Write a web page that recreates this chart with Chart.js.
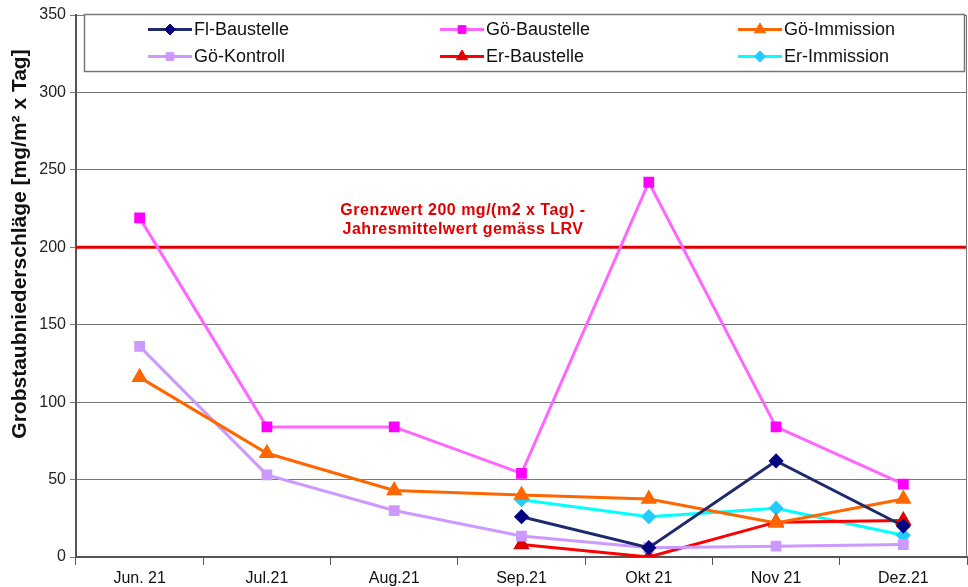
<!DOCTYPE html>
<html>
<head>
<meta charset="utf-8">
<script src="https://cdn.jsdelivr.net/npm/chart.js@4.4.1/dist/chart.umd.min.js"></script>
<style>
  html, body { margin: 0; padding: 0; background: #fff; }
  #wrap { width: 968px; height: 587px; }
</style>
</head>
<body>
<div id="wrap"><canvas id="c" width="968" height="587"></canvas></div>
<script>
// Monthly coarse dust deposition per station, mg/(m² x day)
const months = ['Jun. 21', 'Jul.21', 'Aug.21', 'Sep.21', 'Okt 21', 'Nov 21', 'Dez.21'];
const flBaustelle = [null, null, null, 26, 6, 62, 20];
const goeBaustelle = [219, 84, 84, 54, 242, 84, 47];
const goeImmission = [116, 67, 43, 40, 37.5, 22, 37.5];
const goeKontroll = [136, 53, 30, 13.5, 6, 7, 8];
const erBaustelle = [null, null, null, 8, 0, 22.5, 23.5];
const erImmission = [null, null, null, 37, 26, 31.5, 14];
const yTicks = [0, 50, 100, 150, 200, 250, 300, 350];
const limitValue = 200;
const limitText = ['Grenzwert 200 mg/(m2 x Tag) -', 'Jahresmittelwert gemäss LRV'];
const yTitle = 'Grobstaubniederschläge [mg/m² x Tag]';

const FONT = "'Liberation Sans', Arial, sans-serif";

function series(label, data, line, marker, style, radius) {
  return {
    label, data,
    borderColor: line, backgroundColor: marker,
    pointBackgroundColor: marker, pointBorderColor: marker,
    pointStyle: style, pointRadius: radius, pointHoverRadius: radius,
    borderWidth: 3, tension: 0, spanGaps: false, fill: false
  };
}

const datasets = [
  series('Fl-Baustelle', flBaustelle, '#1f2a6b', '#000080', 'rectRot', 5.5),
  series('Gö-Baustelle', goeBaustelle, '#ff66ff', '#ff00ff', 'rect', 5.5),
  series('Gö-Immission', goeImmission, '#ff6600', '#ff6600', 'triangle', 6.5),
  series('Gö-Kontroll', goeKontroll, '#cc99ff', '#cc99ff', 'rect', 5.5),
  series('Er-Baustelle', erBaustelle, '#ff0000', '#dd0000', 'triangle', 6.5),
  series('Er-Immission', erImmission, '#00ffff', '#22ccff', 'rectRot', 5.5)
];

// Limit line, its caption, frame, axis title and boxed legend inside the plot
const overlay = {
  id: 'overlay',
  beforeDatasetsDraw(chart) {
    const { ctx, chartArea: a, scales } = chart;
    const y = scales.y.getPixelForValue(limitValue);
    ctx.save();
    ctx.strokeStyle = '#e00000';
    ctx.lineWidth = 3;
    ctx.beginPath(); ctx.moveTo(a.left, y); ctx.lineTo(a.right, y); ctx.stroke();

    ctx.fillStyle = '#e00000';
    ctx.font = 'bold 16px ' + FONT;
    ctx.letterSpacing = '0.5px';
    ctx.textAlign = 'center';
    ctx.textBaseline = 'middle';
    ctx.fillText(limitText[0], 463, y - 37);
    ctx.fillText(limitText[1], 463, y - 18);
    ctx.letterSpacing = '0px';

    // right frame edge
    ctx.strokeStyle = '#777';
    ctx.lineWidth = 1;
    ctx.beginPath(); ctx.moveTo(a.right - 0.5, a.top); ctx.lineTo(a.right - 0.5, a.bottom); ctx.stroke();

    // y axis title
    ctx.save();
    ctx.translate(20, 244);
    ctx.rotate(-Math.PI / 2);
    ctx.fillStyle = '#111';
    ctx.font = 'bold 21px ' + FONT;
    ctx.fillText(yTitle, 0, 0);
    ctx.restore();

    // legend box
    const bx = 84.5, by = a.top - 0.5, bw = 880, bh = 57;
    ctx.fillStyle = '#fff';
    ctx.fillRect(bx, by, bw, bh);
    ctx.strokeStyle = '#777';
    ctx.lineWidth = 1.5;
    ctx.strokeRect(bx, by, bw, bh);

    const cols = [148, 440, 738];
    const rows = [by + 15, by + 42];
    ctx.font = '18px ' + FONT;
    ctx.textAlign = 'left';
    chart.data.datasets.forEach((ds, i) => {
      const x0 = cols[i % 3], yy = rows[Math.floor(i / 3)];
      ctx.strokeStyle = ds.borderColor;
      ctx.lineWidth = 3;
      ctx.beginPath(); ctx.moveTo(x0, yy); ctx.lineTo(x0 + 44, yy); ctx.stroke();
      ctx.fillStyle = ds.pointBackgroundColor;
      ctx.strokeStyle = ds.pointBorderColor;
      ctx.lineWidth = 1;
      Chart.helpers.drawPoint(ctx, {
        pointStyle: ds.pointStyle, radius: ds.pointRadius, rotation: 0, borderWidth: 1
      }, x0 + 22, yy);
      ctx.fillStyle = '#111';
      ctx.fillText(ds.label, x0 + 46, yy + 1);
    });
    ctx.restore();
  }
};

new Chart(document.getElementById('c'), {
  type: 'line',
  data: { labels: months, datasets },
  options: {
    responsive: false,
    animation: false,
    events: [],
    layout: { autoPadding: false, padding: { top: 15, right: 1, left: 0, bottom: 0 } },
    plugins: { legend: { display: false }, tooltip: { enabled: false } },
    scales: {
      x: {
        type: 'category',
        offset: true,
        afterFit(s) { s.height = 30; s.paddingLeft = 0; s.paddingRight = 0; },
        grid: {
          offset: true, drawOnChartArea: false, drawTicks: true,
          tickLength: 8, color: '#555', lineWidth: 1
        },
        border: { display: true, color: '#555', width: 2 },
        ticks: {
          color: '#111', padding: 4, maxRotation: 0, autoSkip: false,
          font: { family: FONT, size: 16 }
        }
      },
      y: {
        min: 0, max: 350,
        afterFit(s) { s.width = 76; },
        afterBuildTicks(s) { s.ticks = yTicks.map(v => ({ value: v })); },
        grid: { color: '#777', lineWidth: 1, drawTicks: true, tickLength: 6 },
        border: { display: true, color: '#555', width: 2 },
        ticks: {
          color: '#222', padding: 4,
          font: { family: FONT, size: 16 }
        }
      }
    }
  },
  plugins: [overlay]
});
</script>
</body>
</html>
